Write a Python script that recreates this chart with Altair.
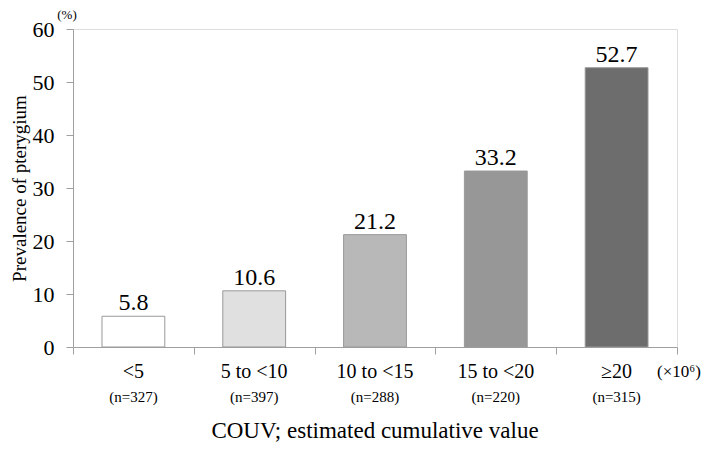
import altair as alt
import pandas as pd

categories = ["<5", "5 to <10", "10 to <15", "15 to <20", "≥20"]
counts = ["(n=327)", "(n=397)", "(n=288)", "(n=220)", "(n=315)"]
values = [5.8, 10.6, 21.2, 33.2, 52.7]
fills = ["#ffffff", "#e0e0e0", "#b8b8b8", "#979797", "#6d6d6d"]

df = pd.DataFrame({
    "i": list(range(len(categories))),
    "cat": categories,
    "n": counts,
    "v": values,
    "fill": fills,
})

FONT = "Liberation Serif"
W, H = 604, 318

base = alt.Chart(df).transform_calculate(
    x0="datum.i + 0.24", x1="datum.i + 0.76", xm="datum.i + 0.5"
)

xscale = alt.Scale(domain=[0, 5], nice=False, zero=False)
yscale = alt.Scale(domain=[0, 60], nice=False)

bars = base.mark_rect(stroke="#999999", strokeWidth=1).encode(
    x=alt.X("x0:Q", scale=xscale,
            axis=alt.Axis(values=[0, 1, 2, 3, 4, 5], labels=False, title=None,
                          grid=False, tickSize=7, domainColor="#a0a0a0",
                          tickColor="#a0a0a0")),
    x2="x1:Q",
    y=alt.Y("v:Q", scale=yscale,
            axis=alt.Axis(values=list(range(0, 61, 5)),
                          labelExpr="datum.value % 10 == 0 ? datum.label : ''",
                          grid=False, tickSize=7, domainColor="#a0a0a0",
                          tickColor="#a0a0a0", labelFont=FONT, labelFontSize=22,
                          labelColor="#000000", labelPadding=12,
                          title="Prevalence of pterygium", titleFont=FONT,
                          titleFontSize=19, titleFontWeight="normal",
                          titleColor="#000000", titleX=-54, titleY=159,
                          titleAngle=-90, titleAlign="center",
                          titleBaseline="middle")),
    y2=alt.datum(0),
    fill=alt.Fill("fill:N", scale=None),
)

vlabels = base.mark_text(font=FONT, fontSize=24, dy=-6, baseline="alphabetic",
                         color="#000000").encode(
    x="xm:Q", y="v:Q", text=alt.Text("v:Q", format=".1f")
)

catlabels = base.mark_text(font=FONT, fontSize=20, baseline="middle",
                           color="#000000").encode(
    x="xm:Q", y=alt.value(H + 25), text="cat:N"
)

nlabels = base.mark_text(font=FONT, fontSize=15, baseline="middle",
                         color="#000000").encode(
    x="xm:Q", y=alt.value(H + 50), text="n:N"
)

notes = pd.DataFrame({
    "t": ["COUV; estimated cumulative value", "(×10⁶)", "(%)"],
})

title_txt = alt.Chart(notes).transform_filter(alt.datum.t == notes.t[0]).mark_text(
    font=FONT, fontSize=23, baseline="middle", color="#000000"
).encode(x=alt.value(W / 2), y=alt.value(H + 84), text="t:N")

unit_txt = alt.Chart(notes).transform_filter(alt.datum.t == notes.t[1]).mark_text(
    font=FONT, fontSize=17, baseline="middle", align="left", color="#000000"
).encode(x=alt.value(W - 20), y=alt.value(H + 25), text="t:N")

pct_txt = alt.Chart(notes).transform_filter(alt.datum.t == notes.t[2]).mark_text(
    font=FONT, fontSize=13, baseline="middle", color="#000000"
).encode(x=alt.value(-6), y=alt.value(-14), text="t:N")

chart = alt.layer(bars, vlabels, catlabels, nlabels, title_txt, unit_txt, pct_txt).properties(
    width=W, height=H,
    autosize=alt.AutoSizeParams(type="none"),
    padding={"left": 65, "top": 21, "right": 25, "bottom": 96},
).configure_view(stroke=None).configure(background="#ffffff")

chart.save("out.html", embed_options={"renderer": "svg", "actions": False})
